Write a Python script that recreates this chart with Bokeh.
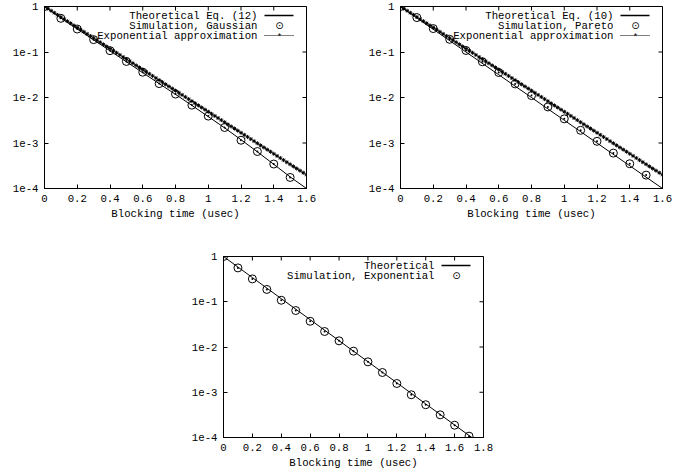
from math import pi
from bokeh.plotting import figure
from bokeh.models import FixedTicker, Label, PolyAnnotation, Range1d, Spacer
from bokeh.layouts import row, column
from bokeh.embed import file_html
from bokeh.resources import INLINE

FONT = "Liberation Mono"
FS = "10.7px"

# ---------------- data ----------------
x_ticks_16 = [0, 0.2, 0.4, 0.6, 0.8, 1.0, 1.2, 1.4, 1.6]
x_labels_16 = ["0", "0.2", "0.4", "0.6", "0.8", "1", "1.2", "1.4", "1.6"]
x_ticks_18 = [0, 0.2, 0.4, 0.6, 0.8, 1.0, 1.2, 1.4, 1.6, 1.8]
x_labels_18 = ["0", "0.2", "0.4", "0.6", "0.8", "1", "1.2", "1.4", "1.6", "1.8"]
y_ticks = [1e-4, 1e-3, 1e-2, 1e-1, 1]
y_labels = ["1e-4", "1e-3", "1e-2", "1e-1", "1"]
Y_MIN, Y_MAX = 1e-4, 1

# Top-left: Gaussian
gauss_theory_x = [0, 0.1, 0.2, 0.3, 0.4, 0.5, 0.6, 0.7, 0.8, 0.9, 1.0, 1.1, 1.2, 1.3, 1.4, 1.5, 1.6]
gauss_theory_y = [1, 0.56, 0.32, 0.185, 0.106, 0.061, 0.035, 0.0202, 0.0117, 0.0067, 0.0038,
                  0.00215, 0.00118, 0.00064, 0.00034, 0.00018, 0.0001]
gauss_sim_x = [0, 0.1, 0.2, 0.3, 0.4, 0.5, 0.6, 0.7, 0.8, 0.9, 1.0, 1.1, 1.2, 1.3, 1.4, 1.5]
gauss_sim_y = [1, 0.55, 0.32, 0.187, 0.107, 0.062, 0.036, 0.0202, 0.0119, 0.0068, 0.0039,
               0.00219, 0.00115, 0.00065, 0.000345, 0.000175]

# Exponential approximation (both top panels)
exp_x = [round(0.02 * i, 2) for i in range(81)]
exp_y = [1, 0.8990, 0.8081, 0.7265, 0.6531, 0.5871, 0.5278, 0.4745, 0.4266, 0.3835,
         0.3448, 0.3100, 0.2786, 0.2505, 0.2252, 0.2024, 0.1820, 0.1636, 0.1471, 0.1322,
         0.1189, 0.1069, 0.09607, 0.08637, 0.07765, 0.06980, 0.06275, 0.05641, 0.05072, 0.04559,
         0.04099, 0.03685, 0.03312, 0.02978, 0.02677, 0.02407, 0.02163, 0.01945, 0.01749, 0.01572,
         0.01413, 0.01271, 0.01142, 0.01027, 0.009231, 0.008298, 0.007460, 0.006707, 0.006030, 0.005420,
         0.004873, 0.004381, 0.003938, 0.003540, 0.003183, 0.002861, 0.002572, 0.002312, 0.002079, 0.001869,
         0.001680, 0.001511, 0.001358, 0.001221, 0.001097, 0.0009865, 0.0008869, 0.0007973, 0.0007168, 0.0006444,
         0.0005794, 0.0005209, 0.0004682, 0.0004209, 0.0003784, 0.0003402, 0.0003058, 0.0002749, 0.0002472, 0.0002222,
         0.0001998]

# Top-right: Pareto
pareto_theory_x = [0, 0.2, 0.4, 0.6, 0.8, 1.0, 1.2, 1.4, 1.6]
pareto_theory_y = [1, 0.316, 0.1, 0.0316, 0.01, 0.00316, 0.001, 0.000316, 0.0001]
pareto_sim_x = [0, 0.1, 0.2, 0.3, 0.4, 0.5, 0.6, 0.7, 0.8, 0.9, 1.0, 1.1, 1.2, 1.3, 1.4, 1.5]
pareto_sim_y = [1, 0.571, 0.327, 0.19, 0.108, 0.061, 0.0354, 0.0199, 0.011, 0.0062, 0.0034,
                0.0019, 0.00109, 0.0006, 0.00035, 0.000197]

# Bottom: Exponential
expo_theory_x = [0, 0.2, 0.4, 0.6, 0.8, 1.0, 1.2, 1.4, 1.6, 1.8]
expo_theory_y = [1, 0.342, 0.117, 0.0402, 0.0138, 0.00472, 0.00162, 0.000553, 0.000189, 0.000065]
expo_sim_x = [0, 0.1, 0.2, 0.3, 0.4, 0.5, 0.6, 0.7, 0.8, 0.9, 1.0, 1.1, 1.2, 1.3, 1.4, 1.5, 1.6, 1.7]
expo_sim_y = [1, 0.56, 0.32, 0.187, 0.108, 0.064, 0.037, 0.022, 0.0137, 0.0081, 0.0047,
              0.00273, 0.00156, 0.00088, 0.00053, 0.000317, 0.000187, 0.000107]


def overrides(ticks, labels):
    d = {}
    for t, l in zip(ticks, labels):
        d[float(t)] = l
        s = repr(float(t))
        d[s[:-2] if s.endswith(".0") else s] = l
    d["0.0001"] = "1e-4"
    return d


def style_axis(ax, label_standoff):
    ax.major_tick_in = 4
    ax.major_tick_out = 0
    ax.minor_tick_line_color = None
    ax.axis_line_color = "black"
    ax.major_tick_line_color = "black"
    ax.major_label_text_font = FONT
    ax.major_label_text_font_size = FS
    ax.major_label_text_color = "black"
    ax.major_label_standoff = label_standoff
    ax.axis_label_text_font = FONT
    ax.axis_label_text_font_size = FS
    ax.axis_label_text_font_style = "normal"
    ax.axis_label_text_color = "black"


def make_fig(x_max, xt, xl, fw, fh, bl, br, bt, bb):
    p = figure(frame_width=fw, frame_height=fh, x_range=Range1d(0, x_max),
               y_range=Range1d(Y_MIN, Y_MAX), y_axis_type="log",
               output_backend="svg", toolbar_location=None,
               min_border_left=bl, min_border_right=br,
               min_border_top=bt, min_border_bottom=bb)
    p.grid.visible = False
    p.outline_line_color = "black"
    p.outline_line_width = 1
    xa = p.xaxis[0]
    ya = p.yaxis[0]
    xa.ticker = FixedTicker(ticks=xt, minor_ticks=[])
    xa.major_label_overrides = overrides(xt, xl)
    xa.axis_label = "Blocking time (usec)"
    style_axis(xa, 6)
    xa.axis_label_standoff = 3
    ya.ticker = FixedTicker(ticks=y_ticks, minor_ticks=[])
    ya.major_label_overrides = overrides(y_ticks, y_labels)
    style_axis(ya, 6)
    # mirrored tick marks on top and right edges (gnuplot style)
    p.ray(x=xt, y=[Y_MAX] * len(xt), length=4, length_units="screen", angle=-pi / 2,
          line_color="black", line_width=1)
    p.ray(x=[x_max] * len(y_ticks), y=y_ticks, length=4, length_units="screen", angle=pi,
          line_color="black", line_width=1)
    return p


def legend(p, fw, fh, entries):
    for i, (text, kind) in enumerate(entries):
        y = fh - 9 - 10 * i
        p.add_layout(Label(x=fw - 49, y=y, x_units="screen", y_units="screen", text=text,
                           text_align="right", text_baseline="middle",
                           text_font=FONT, text_font_size=FS, text_color="black"))
        if kind == "line":
            p.add_layout(PolyAnnotation(xs=[fw - 42, fw - 13], ys=[y, y], xs_units="screen",
                                        ys_units="screen", line_color="black", line_alpha=1.0,
                                        line_width=1.5, fill_alpha=0))
        elif kind == "circle":
            p.add_layout(Label(x=fw - 27, y=y, x_units="screen", y_units="screen", text="\u2299",
                               text_align="center", text_baseline="middle",
                               text_font="DejaVu Sans", text_font_size="10px", text_color="black"))
        else:
            p.add_layout(PolyAnnotation(xs=[fw - 42, fw - 13], ys=[y, y], xs_units="screen",
                                        ys_units="screen", line_color="black", line_alpha=1.0,
                                        line_width=1, line_dash="1 1", fill_alpha=0))
            p.add_layout(Label(x=fw - 27, y=y - 2, x_units="screen", y_units="screen", text="*",
                               text_align="center", text_baseline="middle",
                               text_font=FONT, text_font_size="9px", text_color="black"))


def draw_exp(p):
    p.line(exp_x, exp_y, line_color="black", line_width=1, line_dash="1 1")
    p.scatter(exp_x, exp_y, marker="asterisk", size=4, line_color="black", line_width=1)


# Top-left
p1 = make_fig(1.6, x_ticks_16, x_labels_16, 262, 182, 44, 58, 6, 34)
p1.line(gauss_theory_x, gauss_theory_y, line_color="black", line_width=1)
p1.scatter(gauss_sim_x, gauss_sim_y, marker="circle_dot", size=8, fill_color=None,
           line_color="black", line_width=1)
draw_exp(p1)
legend(p1, 262, 182, [("Theoretical Eq. (12)", "line"), ("Simulation, Gaussian", "circle"),
                      ("Exponential approximation", "exp")])

# Top-right
p2 = make_fig(1.6, x_ticks_16, x_labels_16, 262, 182, 36, 12, 6, 34)
p2.line(pareto_theory_x, pareto_theory_y, line_color="black", line_width=1)
p2.scatter(pareto_sim_x, pareto_sim_y, marker="circle_dot", size=8, fill_color=None,
           line_color="black", line_width=1)
draw_exp(p2)
legend(p2, 262, 182, [("Theoretical Eq. (10)", "line"), ("Simulation, Pareto", "circle"),
                      ("Exponential approximation", "exp")])

# Bottom
p3 = make_fig(1.8, x_ticks_18, x_labels_18, 260, 181, 36, 12, 34, 34)
p3.line(expo_theory_x, expo_theory_y, line_color="black", line_width=1)
p3.scatter(expo_sim_x, expo_sim_y, marker="circle_dot", size=8, fill_color=None,
           line_color="black", line_width=1)
legend(p3, 260, 181, [("Theoretical", "line"), ("Simulation, Exponential", "circle")])

layout = column(row(p1, p2), row(Spacer(width=187, height=10), p3))

open("out.html", "w").write(file_html(layout, INLINE))
